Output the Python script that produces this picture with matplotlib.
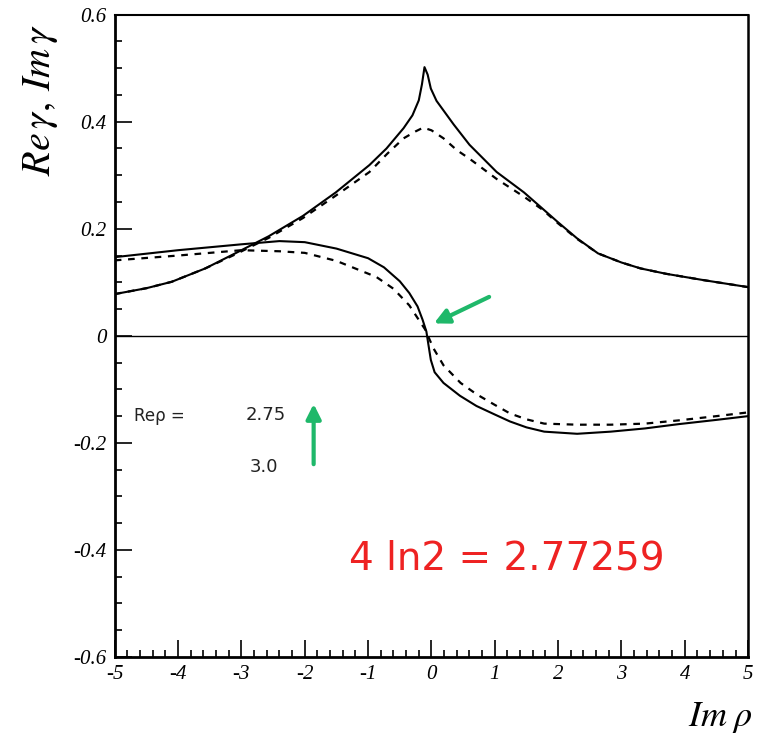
import numpy as np
import matplotlib.pyplot as plt
from matplotlib.ticker import MultipleLocator

# Curve: cusp-shaped curve (solid = Re rho 2.75, dashed = 3.0)
xa_solid = [-5.0, -4.5, -4.1, -3.57, -3.1, -2.57, -2.03, -1.51, -0.98, -0.71, -0.44, -0.3,
            -0.2, -0.15, -0.11, -0.06, -0.01, 0.08, 0.35, 0.6, 1.03, 1.46, 1.75, 2.0, 2.3,
            2.63, 3.0, 3.3, 3.7, 4.3, 5.0]
ya_solid = [0.078, 0.089, 0.101, 0.126, 0.154, 0.186, 0.224, 0.268, 0.319, 0.350, 0.388, 0.412,
            0.440, 0.470, 0.502, 0.488, 0.462, 0.439, 0.395, 0.357, 0.306, 0.268, 0.238, 0.212,
            0.182, 0.154, 0.137, 0.126, 0.116, 0.104, 0.091]
xa_dash = [-5.0, -4.5, -4.1, -3.57, -3.1, -2.57, -2.03, -1.51, -0.98, -0.7, -0.44, -0.25,
           -0.13, 0.0, 0.19, 0.4, 0.6, 1.03, 1.46, 1.75, 2.0, 2.3, 2.63, 3.0, 3.3, 3.7, 4.3, 5.0]
ya_dash = [0.078, 0.089, 0.101, 0.126, 0.152, 0.183, 0.220, 0.262, 0.306, 0.340, 0.369, 0.382,
           0.389, 0.384, 0.369, 0.347, 0.331, 0.293, 0.260, 0.236, 0.210, 0.181, 0.154,
           0.137, 0.126, 0.116, 0.104, 0.091]

# Curve with the sign change near Im rho = 0
xb_solid = [-5.0, -4.0, -3.0, -2.4, -2.0, -1.5, -1.0, -0.75, -0.5, -0.35, -0.22, -0.14, -0.08,
            -0.05, -0.01, 0.05, 0.19, 0.45, 0.71, 1.0, 1.24, 1.5, 1.78, 2.3, 2.83, 3.37, 3.9,
            4.5, 5.0]
yb_solid = [0.147, 0.160, 0.171, 0.177, 0.175, 0.163, 0.145, 0.128, 0.102, 0.080, 0.055, 0.030,
            0.008, -0.015, -0.045, -0.068, -0.088, -0.112, -0.131, -0.147, -0.160, -0.171,
            -0.179, -0.183, -0.179, -0.173, -0.165, -0.157, -0.150]
xb_dash = [-5.0, -4.0, -3.0, -2.4, -2.0, -1.5, -0.87, -0.6, -0.35, -0.19, -0.1, 0.03,
           0.19, 0.46, 0.71, 1.0, 1.24, 1.5, 1.78, 2.3, 2.83, 3.37, 3.9, 4.5, 5.0]
yb_dash = [0.141, 0.150, 0.160, 0.158, 0.155, 0.140, 0.110, 0.088, 0.057, 0.028, 0.012, -0.023,
           -0.055, -0.088, -0.109, -0.129, -0.145, -0.156, -0.164, -0.166, -0.166, -0.164,
           -0.158, -0.150, -0.143]

xticks = [-5, -4, -3, -2, -1, 0, 1, 2, 3, 4, 5]
yticks = [-0.6, -0.4, -0.2, 0, 0.2, 0.4, 0.6]
ytick_labels = ['-0.6', '-0.4', '-0.2', '0', '0.2', '0.4', '0.6']

serif = 'Liberation Serif'

fig = plt.figure(figsize=(7.65, 7.53), dpi=100)
ax = fig.add_axes([0.150, 0.1275, 0.828, 0.853])

ax.axhline(0, color='black', lw=1.0)
ax.plot(xa_solid, ya_solid, color='black', lw=1.5)
ax.plot(xa_dash, ya_dash, color='black', lw=1.6, ls=(0, (3, 3)))
ax.plot(xb_solid, yb_solid, color='black', lw=1.5)
ax.plot(xb_dash, yb_dash, color='black', lw=1.6, ls=(0, (3, 3)))

ax.set_xlim(-5, 5)
ax.set_ylim(-0.6, 0.6)
ax.set_xticks(xticks)
ax.set_xticklabels([str(t) for t in xticks], fontfamily=serif, fontstyle='italic', fontsize=15)
ax.set_yticks(yticks)
ax.set_yticklabels(ytick_labels, fontfamily=serif, fontstyle='italic', fontsize=15)
ax.xaxis.set_minor_locator(MultipleLocator(0.2))
ax.yaxis.set_minor_locator(MultipleLocator(0.05))
ax.tick_params(which='both', direction='in', top=False, right=False, width=1.2)
ax.tick_params(which='major', length=12, pad=6)
ax.tick_params(which='minor', length=5)
ax.spines['left'].set_linewidth(2.0)
ax.spines['bottom'].set_linewidth(2.0)
ax.spines['top'].set_linewidth(1.5)
ax.spines['right'].set_linewidth(1.8)

fig.text(0.052, 0.867, r'$Re\,\gamma,\,Im\,\gamma$', rotation=90, ha='center', va='center',
         fontsize=29, math_fontfamily='stix')
fig.text(0.942, 0.047, r'$Im\;\rho$', ha='center', va='center', fontsize=26,
         math_fontfamily='stix')

ax.text(-4.29, -0.15, 'Reρ =', ha='center', va='center', fontsize=12, color='#222222')
ax.text(-2.62, -0.147, '2.75', ha='center', va='center', fontsize=13, color='#222222')
ax.text(-2.65, -0.245, '3.0', ha='center', va='center', fontsize=13, color='#222222')

green = '#1fb86a'
ax.annotate('', xy=(0.0, 0.021), xytext=(0.95, 0.075),
            arrowprops=dict(arrowstyle='-|>', color=green, lw=3, mutation_scale=22))
ax.annotate('', xy=(-1.86, -0.122), xytext=(-1.86, -0.245),
            arrowprops=dict(arrowstyle='-|>', color=green, lw=3, mutation_scale=22))

ax.text(1.19, -0.416, '4 ln2 = 2.77259', ha='center', va='center', fontsize=28,
        color='#ee2222')

fig.savefig('out.png', dpi=100)
